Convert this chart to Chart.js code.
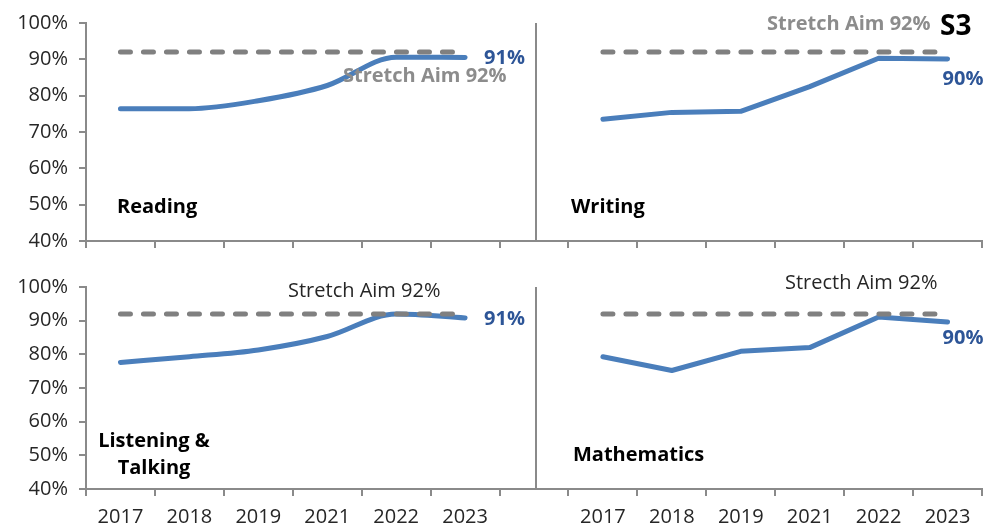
<!DOCTYPE html>
<html><head><meta charset="utf-8">
<script src="https://cdn.jsdelivr.net/npm/chart.js@4.4.0/dist/chart.umd.min.js"></script>
<style>
html,body{margin:0;padding:0;background:#fff;}
#wrap{position:relative;width:987px;height:528px;overflow:hidden;background:#fff;}
.panel{position:absolute;left:0;width:987px;}
#top{top:0;height:264px;}
#bot{top:258px;height:270px;}
</style></head><body>
<div id="wrap">
  <div class="panel" id="top"><canvas id="c1" width="987" height="264"></canvas></div>
  <div class="panel" id="bot"><canvas id="c2" width="987" height="270"></canvas></div>
</div>
<script>
// ---- data ----
const years = ['2017', '2018', '2019', '2021', '2022', '2023'];
const reading = [76.4, 76.4, 78.6, 82.8, 90.6, 90.5];
const writing = [73.5, 75.4, 75.7, 82.5, 90.3, 90.1];
const listening = [77.6, 79.3, 81.3, 85.3, 92.0, 90.8];
const maths = [79.3, 75.2, 80.9, 82.0, 91.1, 89.6];
const stretchAim = [92, 92, 92, 92, 92, 92];
const yTicks = [40, 50, 60, 70, 80, 90, 100];

// ---- helpers ----
const labels = [...years, '', ...years];
const gap = years.length;               // index of the gap category between panels
const pad = n => Array(n).fill(null);
const leftPanel = arr => [...arr, ...pad(years.length + 1)];
const rightPanel = arr => [...pad(years.length + 1), ...arr];

const FONT = "'Open Sans', sans-serif";
const axisColor = '#8a8a8a';
const lineBlue = '#4a7ebb';
const labelBlue = '#2d5597';
const aimGray = '#808080';

Chart.defaults.font.family = FONT;
Chart.defaults.color = '#262626';

const deco = {
  id: 'deco',
  afterDatasetsDraw(chart, args, opts) {
    const {ctx, chartArea, scales} = chart;
    const x = scales.x, y = scales.y;
    ctx.save();
    // divider / right panel axis
    const gx = Math.round(x.getPixelForValue(gap)) + 2;
    ctx.strokeStyle = axisColor; ctx.lineWidth = 2;
    ctx.beginPath(); ctx.moveTo(gx, chartArea.top); ctx.lineTo(gx, chartArea.bottom); ctx.stroke();
    // value labels on last point
    ctx.textBaseline = 'middle';
    for (const v of opts.values) {
      const data = chart.data.datasets[v.ds].data;
      let idx = data.length - 1;
      while (idx >= 0 && data[idx] == null) idx--;
      const val = data[idx];
      ctx.font = 'bold 20px ' + FONT;
      ctx.fillStyle = labelBlue;
      ctx.textAlign = 'left';
      ctx.fillText(Math.round(val) + '%', x.getPixelForValue(idx) + v.dx, y.getPixelForValue(val) + v.dy);
    }
    for (const t of opts.texts) {
      ctx.font = t.font;
      ctx.fillStyle = t.color;
      ctx.textAlign = t.align || 'left';
      ctx.fillText(t.text, t.x, t.y);
    }
    ctx.restore();
  }
};

function makeChart(id, leftData, rightData, topPad, xHeight, showX, values, texts, smoothLeft, smoothRight) {
  const line = (data, smooth) => ({
    data, borderColor: lineBlue, borderWidth: 5, pointRadius: 0,
    cubicInterpolationMode: smooth ? 'monotone' : 'default', tension: 0,
    borderCapStyle: 'round', borderJoinStyle: 'round', fill: false
  });
  const aim = data => ({
    data, borderColor: aimGray, borderWidth: 5, pointRadius: 0,
    borderDash: [10, 13], borderCapStyle: 'round', fill: false
  });
  return new Chart(document.getElementById(id), {
    type: 'line',
    data: {
      labels,
      datasets: [
        aim(leftPanel(stretchAim)),
        aim(rightPanel(stretchAim)),
        line(leftPanel(leftData), smoothLeft),
        line(rightPanel(rightData), smoothRight)
      ]
    },
    options: {
      responsive: false, animation: false, devicePixelRatio: 1,
      layout: {padding: {top: topPad, right: 5, left: 0, bottom: 0}},
      plugins: {legend: {display: false}, tooltip: {enabled: false}, deco: {values, texts}},
      scales: {
        x: {
          type: 'category', offset: true,
          grid: {offset: true, drawOnChartArea: false, drawTicks: true, tickLength: 7, color: axisColor, lineWidth: 2},
          border: {color: axisColor, width: 2},
          ticks: {display: showX, autoSkip: false, maxRotation: 0, padding: 9, font: {size: 20}, color: '#262626'},
          afterFit: s => { s.height = xHeight; }
        },
        y: {
          min: 40, max: 100,
          afterBuildTicks: s => { s.ticks = yTicks.map(v => ({value: v})); },
          grid: {drawOnChartArea: false, drawTicks: true, tickLength: 7, color: axisColor, lineWidth: 2},
          border: {color: axisColor, width: 2},
          ticks: {padding: 11, font: {size: 20}, color: '#262626', callback: v => v + '%'},
          afterFit: s => { s.width = 86; }
        }
      }
    },
    plugins: [deco]
  });
}

const boldBlack = 'bold 20px ' + FONT;
const boldGray = 'bold 20px ' + FONT;
const normal = '20px ' + FONT;

makeChart('c1', reading, writing, 22, 16, false,
  [{ds: 2, dx: 19, dy: 1}, {ds: 3, dx: -5, dy: 20}],
  [
    {text: 'Reading', x: 117, y: 207, font: boldBlack, color: '#000'},
    {text: 'Writing', x: 571, y: 207, font: boldBlack, color: '#000'},
    {text: 'Stretch Aim 92%', x: 343, y: 76, font: boldGray, color: '#8c8c8c'},
    {text: 'Stretch Aim 92%', x: 767, y: 24, font: boldGray, color: '#8c8c8c'},
    {text: 'S3', x: 940, y: 27, font: 'bold 28px ' + FONT, color: '#000'}
  ], true, false);

makeChart('c2', listening, maths, 29, 39, true,
  [{ds: 2, dx: 19, dy: 1}, {ds: 3, dx: -5, dy: 16}],
  [
    {text: 'Listening &', x: 154, y: 183, font: boldBlack, color: '#000', align: 'center'},
    {text: 'Talking', x: 154, y: 210, font: boldBlack, color: '#000', align: 'center'},
    {text: 'Mathematics', x: 573, y: 197, font: boldBlack, color: '#000'},
    {text: 'Stretch Aim 92%', x: 288, y: 33, font: normal, color: '#262626'},
    {text: 'Strecth Aim 92%', x: 785, y: 25, font: normal, color: '#262626'}
  ], true, false);
</script>
</body></html>
